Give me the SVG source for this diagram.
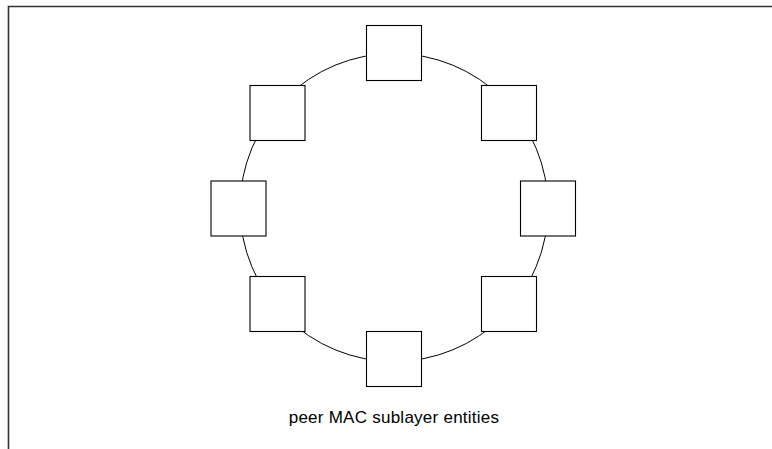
<svg xmlns="http://www.w3.org/2000/svg" width="772" height="449" viewBox="0 0 772 449">
<style>
.box{fill:#fff;stroke:#000;stroke-width:1.1}
.ring{fill:none;stroke:#000;stroke-width:1}
.frame{stroke:#333;stroke-width:1.6;fill:none}
.lbl{font-family:"Liberation Sans",Arial,sans-serif;font-size:17px;letter-spacing:0.25px;fill:#000}
</style>
<rect width="772" height="449" fill="#fff"/>
<path class="frame" d="M772,6.5 H8.5 V449"/>
<g id="connectors">
<circle class="ring" cx="394" cy="207.5" r="154"/>
</g>
<g id="node-top"><rect class="box" x="366.5" y="25.5" width="55" height="55"/></g>
<g id="node-top-right"><rect class="box" x="481.5" y="85.5" width="55" height="55"/></g>
<g id="node-right"><rect class="box" x="520.5" y="181" width="55" height="55"/></g>
<g id="node-bottom-right"><rect class="box" x="481.5" y="276.5" width="55" height="55"/></g>
<g id="node-bottom"><rect class="box" x="366.5" y="331.5" width="55" height="55"/></g>
<g id="node-bottom-left"><rect class="box" x="250" y="276.5" width="55" height="55"/></g>
<g id="node-left"><rect class="box" x="211" y="181" width="55" height="55"/></g>
<g id="node-top-left"><rect class="box" x="250" y="85.5" width="55" height="55"/></g>
<text class="lbl" x="394" y="423" text-anchor="middle">peer MAC sublayer entities</text>
</svg>
